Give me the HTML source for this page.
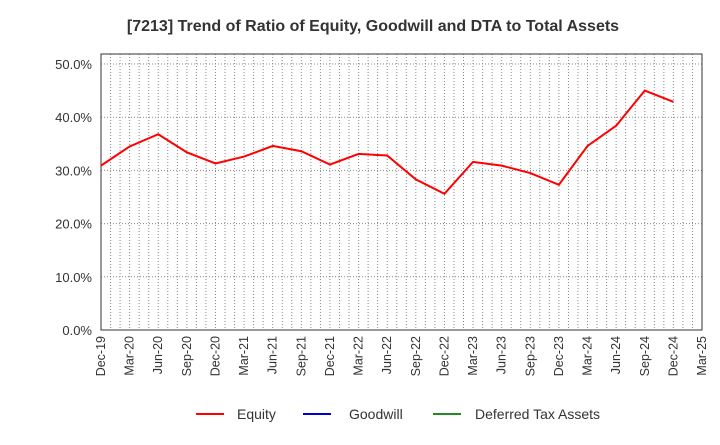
<!DOCTYPE html>
<html><head><meta charset="utf-8"><style>
body{margin:0;background:#fff;font-family:"Liberation Sans",Arial,sans-serif;}
svg text{font-family:"Liberation Sans",Arial,sans-serif;}
</style></head><body>
<svg width="720" height="440" xmlns="http://www.w3.org/2000/svg">
<text x="373" y="31" text-anchor="middle" font-size="16" font-weight="bold" fill="#333">[7213]  Trend of Ratio of Equity, Goodwill and DTA to Total Assets</text>
<g id="grid"></g>
<g id="yaxis"></g>
<g id="xaxis"></g>
<rect x="101" y="54" width="601" height="276" fill="none" stroke="#333" stroke-width="1"/>
<polyline id="equity" fill="none" stroke="#ff0000" stroke-width="2"/>
<g>
<line x1="196" y1="414" x2="224" y2="414" stroke="#ff0000" stroke-width="2"/>
<text x="237" y="419" font-size="14" fill="#333">Equity</text>
<line x1="303" y1="414" x2="331" y2="414" stroke="#0000cc" stroke-width="2"/>
<text x="349" y="419" font-size="14" fill="#333">Goodwill</text>
<line x1="433" y1="414" x2="461" y2="414" stroke="#228b22" stroke-width="2"/>
<text x="475" y="419" font-size="14" fill="#333">Deferred Tax Assets</text>
</g>
</svg>
<script>
const categories=["Dec-19","Mar-20","Jun-20","Sep-20","Dec-20","Mar-21","Jun-21","Sep-21","Dec-21","Mar-22","Jun-22","Sep-22","Dec-22","Mar-23","Jun-23","Sep-23","Dec-23","Mar-24","Jun-24","Sep-24","Dec-24","Mar-25"];
const equity=[30.9,34.5,36.8,33.4,31.3,32.6,34.6,33.6,31.1,33.1,32.8,28.3,25.6,31.6,30.9,29.5,27.3,34.6,38.4,45.0,42.9];
const yTicks=[0,10,20,30,40,50];
const NS="http://www.w3.org/2000/svg";
const X0=101,X1=702,Y0=330,Y50=64;
const xs=i=>X0+(X1-X0)*i/(categories.length-1);
const ys=v=>Y0-(Y0-Y50)*v/50;
function mk(tag,attrs,parent){const e=document.createElementNS(NS,tag);for(const k in attrs)e.setAttribute(k,attrs[k]);parent.appendChild(e);return e;}
const grid=document.getElementById('grid'),ya=document.getElementById('yaxis'),xa=document.getElementById('xaxis');
for(let m=1;m<(categories.length-1)*3;m++){const x=X0+(X1-X0)*m/((categories.length-1)*3);
const l=mk('line',{x1:x,x2:x,y1:54,y2:Y0,stroke:'#888','stroke-dasharray':'1,2','stroke-width':1},grid);

}
yTicks.forEach(v=>{const y=ys(v);
if(v>0){const l=mk('line',{x1:X0,x2:X1,y1:y,y2:y,stroke:'#888','stroke-dasharray':'1,2','stroke-width':1},grid);

}
const t=mk('text',{x:92,y:y+5,'text-anchor':'end','font-size':13,fill:'#333'},ya);t.textContent=v.toFixed(1)+'%';

});
categories.forEach((c,i)=>{const x=xs(i);
const t=mk('text',{x:0,y:0,'text-anchor':'end','font-size':12.5,fill:'#333',transform:`translate(${x+4},336) rotate(-90)`},xa);t.textContent=c;

});
document.getElementById('equity').setAttribute('points',equity.map((v,i)=>xs(i)+','+ys(v)).join(' '));
</script>
</body></html>
